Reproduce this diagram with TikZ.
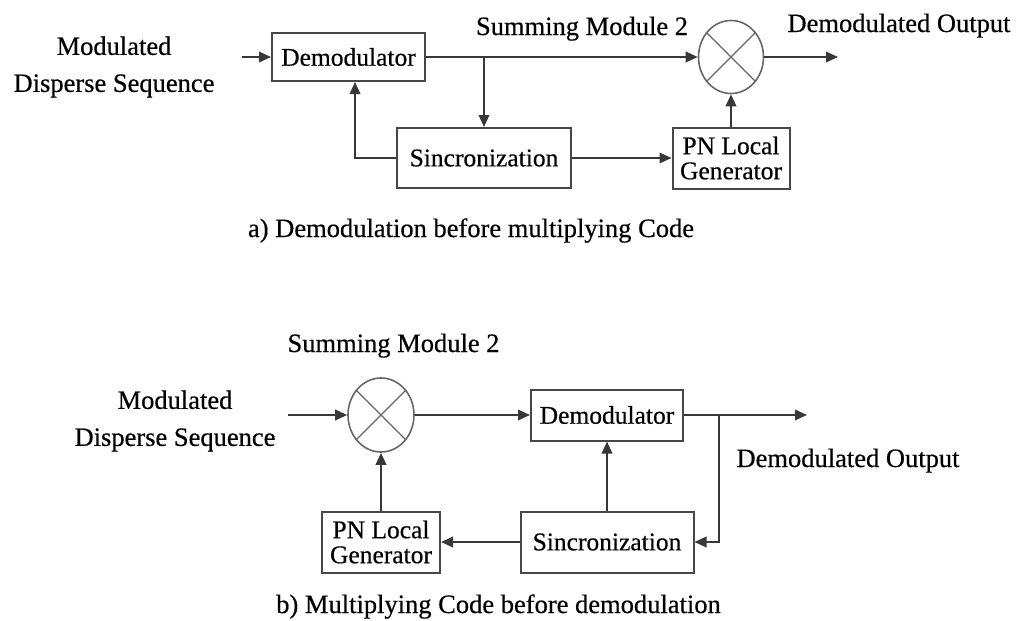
\documentclass[tikz,border=0pt]{standalone}
\usepackage{fontspec}
\setmainfont{Liberation Serif}[FakeBold=0.5]
\usetikzlibrary{arrows.meta,shapes.geometric}
\begin{document}
\begin{tikzpicture}[x=1pt,y=-1pt,
  lbl/.style={font=\fontsize{26.5}{37}\selectfont, inner sep=0pt, align=center, text=black},
  blk/.style={draw=black!72, line width=2pt, rectangle, inner sep=0pt,
    font=\fontsize{25.5}{25}\selectfont, align=center, text=black},
  mixer/.style={draw=black!60, line width=1.6pt, ellipse, inner sep=0pt},
  xline/.style={draw=black!60, line width=1.4pt},
  conn/.style={draw=black!78, line width=2pt},
  arr/.style={conn, -{Triangle[length=12pt,width=10.5pt]}}
]
\useasboundingbox (0,0) rectangle (1018,621);

% ---------- a) ----------
\node[blk, minimum width=153pt, minimum height=48pt] (demA) at (348.5,57) {Demodulator};
\node[blk, minimum width=174pt, minimum height=60pt] (syncA) at (484,158) {Sincronization};
\node[blk, minimum width=117pt, minimum height=61pt] (pnA) at (731,158) {PN Local\\Generator};
\node[mixer, minimum width=65pt, minimum height=73pt] (mulA) at (731,57) {};
\draw[xline] (mulA.45) -- (mulA.225) (mulA.135) -- (mulA.315);

\coordinate (inA) at (242,57);
\coordinate (outA) at (838,57);
\draw[arr] (inA) -- (demA.west);
\draw[arr] (demA.east) -- (mulA.west);
\draw[arr] (syncA.north |- demA.east) -- (syncA.north);
\draw[arr] (syncA.west) -| ([xshift=6.5pt]demA.south);
\draw[arr] (syncA.east) -- (pnA.west);
\draw[arr] (pnA.north) -- (mulA.south);
\draw[arr] (mulA.east) -- (outA);

\node[lbl, anchor=base] (sumA) at (582,35) {Summing Module 2};
\node[lbl, anchor=base] (outlblA) at (899,32) {Demodulated Output};
\node[lbl] (inlblA) at (114,67) {Modulated\\Disperse Sequence};
\node[lbl, anchor=base] (capA) at (471,237) {a) Demodulation before multiplying Code};

% ---------- b) ----------
\node[mixer, minimum width=66pt, minimum height=74pt] (mulB) at (381,415) {};
\draw[xline] (mulB.45) -- (mulB.225) (mulB.135) -- (mulB.315);
\node[blk, minimum width=152pt, minimum height=51pt] (demB) at (607,415) {Demodulator};
\node[blk, minimum width=173pt, minimum height=61pt] (syncB) at (607,542) {Sincronization};
\node[blk, minimum width=118pt, minimum height=61pt] (pnB) at (381,542) {PN Local\\Generator};

\coordinate (inB) at (288,415);
\coordinate (outB) at (807,415);
\coordinate (brB) at (719,415);
\draw[arr] (inB) -- (mulB.west);
\draw[arr] (mulB.east) -- (demB.west);
\draw[arr] (demB.east) -- (outB);
\draw[arr] (brB) |- (syncB.east);
\draw[arr] (syncB.north) -- (demB.south);
\draw[arr] (syncB.west) -- (pnB.east);
\draw[arr] (pnB.north) -- (mulB.south);

\node[lbl, anchor=base] (sumB) at (393.5,352) {Summing Module 2};
\node[lbl, anchor=base] (outlblB) at (848,467) {Demodulated Output};
\node[lbl] (inlblB) at (175,421) {Modulated\\Disperse Sequence};
\node[lbl, anchor=base] (capB) at (498.5,613) {b) Multiplying Code before demodulation};
\end{tikzpicture}
\end{document}
